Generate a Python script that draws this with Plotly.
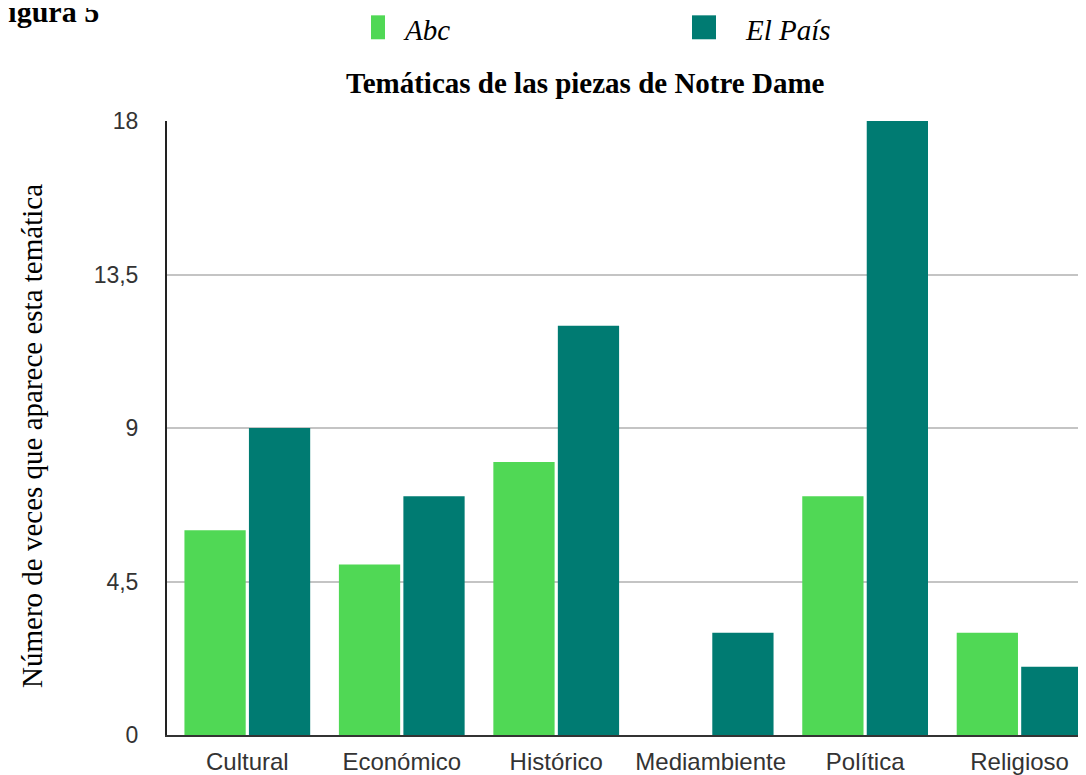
import plotly.graph_objects as go

categories = ["Cultural", "Económico", "Histórico", "Mediambiente", "Política", "Religioso"]
abc_values = [6, 5, 8, 0, 7, 3]
elpais_values = [9, 7, 12, 3, 18, 2]
y_tick_values = [0, 4.5, 9, 13.5, 18]
y_tick_labels = ["0", "4,5", "9", "13,5", "18"]

ABC_COLOR = "#50d855"
ELPAIS_COLOR = "#007b72"
SERIF = "Liberation Serif, Times New Roman, serif"
SANS = "Liberation Sans, Arial, Helvetica, sans-serif"

fig = go.Figure()
fig.add_trace(go.Bar(x=categories, y=abc_values, name="Abc",
                     marker=dict(color=ABC_COLOR, line=dict(width=0))))
fig.add_trace(go.Bar(x=categories, y=elpais_values, name="El País",
                     marker=dict(color=ELPAIS_COLOR, line=dict(width=0))))

# page body adds an 8px offset, so the figure is 8px smaller than the window
fig.update_layout(
    width=1078,
    height=767,
    margin=dict(l=159, r=0, t=113, b=38),
    paper_bgcolor="white",
    plot_bgcolor="white",
    showlegend=False,
    barmode="group",
    bargap=0.165,
    bargroupgap=0.05,
    xaxis=dict(
        range=[-0.52, 5.43],
        showgrid=False,
        showline=True,
        linecolor="#333333",
        linewidth=2,
        ticks="",
        ticklabelstandoff=4,
        tickfont=dict(family=SANS, size=24, color="#333333"),
    ),
    yaxis=dict(
        range=[0, 18],
        tickvals=y_tick_values,
        ticktext=y_tick_labels,
        showgrid=True,
        gridcolor="#c4c4c4",
        gridwidth=1.5,
        zeroline=False,
        showline=True,
        linecolor="#222222",
        linewidth=2,
        ticks="",
        ticklabelstandoff=22,
        tickfont=dict(family=SANS, size=23, color="#333333"),
    ),
)

# Y axis title (placed by hand to sit slightly below the plot centre)
fig.add_annotation(text="Número de veces que aparece esta temática",
                   xref="paper", yref="paper", x=-0.1469, y=0.487,
                   xanchor="center", yanchor="middle", textangle=-90,
                   showarrow=False, font=dict(family=SERIF, size=29, color="black"))

# Title and figure label
fig.add_annotation(text="<b>Temáticas de las piezas de Notre Dame</b>",
                   xref="paper", yref="paper", x=0.455, y=1.0617,
                   xanchor="center", yanchor="middle", showarrow=False,
                   font=dict(family=SERIF, size=29, color="black"))
fig.add_annotation(text="<b>Figura 5</b>",
                   xref="paper", yref="paper", x=-0.0719, y=1.178,
                   xanchor="right", yanchor="middle", showarrow=False,
                   font=dict(family=SERIF, size=30, color="black"))

# Custom legend
fig.add_shape(type="rect", xref="paper", yref="paper",
              x0=0.2220, x1=0.2372, y0=1.1331, y1=1.1721,
              fillcolor=ABC_COLOR, line=dict(width=0))
fig.add_annotation(text="<i>Abc</i>", xref="paper", yref="paper",
                   x=0.255, y=1.1477, xanchor="left", yanchor="middle",
                   showarrow=False, font=dict(family=SERIF, size=29, color="black"))
fig.add_shape(type="rect", xref="paper", yref="paper",
              x0=0.5713, x1=0.5974, y0=1.1331, y1=1.1721,
              fillcolor=ELPAIS_COLOR, line=dict(width=0))
fig.add_annotation(text="<i>El País</i>", xref="paper", yref="paper",
                   x=0.627, y=1.1477, xanchor="left", yanchor="middle",
                   showarrow=False, font=dict(family=SERIF, size=29, color="black"))

fig.write_html("out.html")
